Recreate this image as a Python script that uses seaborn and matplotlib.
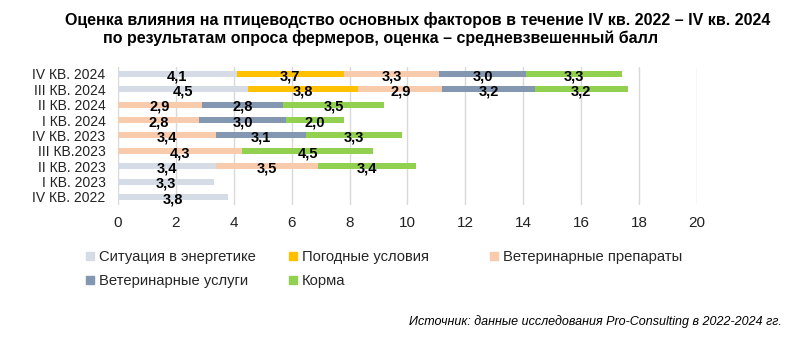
import matplotlib
matplotlib.use("Agg")
import matplotlib.pyplot as plt
from matplotlib.lines import Line2D
import seaborn as sns
import pandas as pd
import numpy as np

categories = ["IV КВ. 2024", "III КВ. 2024", "II КВ. 2024", "I КВ. 2024", "IV КВ. 2023",
              "III КВ.2023", "II КВ. 2023", "I КВ. 2023", "IV КВ. 2022"]
series_names = ["Ситуация в энергетике", "Погодные условия", "Ветеринарные препараты",
                "Ветеринарные услуги", "Корма"]
energy = [4.1, 4.5, 0, 0, 0, 0, 3.4, 3.3, 3.8]
weather = [3.7, 3.8, 0, 0, 0, 0, 0, 0, 0]
vet_drugs = [3.3, 2.9, 2.9, 2.8, 3.4, 4.3, 3.5, 0, 0]
vet_services = [3.0, 3.2, 2.8, 3.0, 3.1, 0, 0, 0, 0]
feed = [3.3, 3.2, 3.5, 2.0, 3.3, 4.5, 3.4, 0, 0]
colors = ["#D6DCE5", "#FFC000", "#F8CBAD", "#8497B0", "#92D050"]
x_ticks = [0, 2, 4, 6, 8, 10, 12, 14, 16, 18, 20]

title1 = "Оценка влияния на птицеводство основных факторов в течение IV кв. 2022 – IV кв. 2024"
title2 = "по результатам опроса фермеров, оценка – средневзвешенный балл"
source = "Источник: данные исследования Pro-Consulting в 2022-2024 гг."

sns.set_theme(style="white")
plt.rcParams["font.family"] = ["Liberation Sans", "DejaVu Sans"]

values = [energy, weather, vet_drugs, vet_services, feed]
df = pd.DataFrame({name: v for name, v in zip(series_names, values)}, index=categories)
cum = df.cumsum(axis=1)

W, H = 803, 347
fig = plt.figure(figsize=(W / 100, H / 100), dpi=100)
ax = fig.add_axes([118 / W, 1 - 205 / H, (697 - 118) / W, (205 - 67) / H])

for i in range(len(series_names) - 1, -1, -1):
    name = series_names[i]
    sns.barplot(x=cum[name].values, y=categories, orient="h", color=colors[i],
                saturation=1, width=0.39, linewidth=0, ax=ax, zorder=2)

# data labels
for i, name in enumerate(series_names):
    left = cum[name] - df[name]
    for j, cat in enumerate(categories):
        v = df[name].iloc[j]
        if v > 0:
            ax.text(left.iloc[j] + v / 2, j + 0.14, f"{v:.1f}".replace(".", ","),
                    ha="center", va="center", fontsize=10.5, fontweight="bold",
                    color="black", zorder=5)

ax.set_xlim(0, 20)
ax.set_ylim(8.52, -0.45)
ax.set_xticks(x_ticks)
ax.set_xticklabels([str(t) for t in x_ticks], fontsize=11, color="#222222")
ax.tick_params(axis="y", labelsize=10, length=0, pad=9, labelcolor="#222222")
ax.tick_params(axis="x", length=0, pad=8)
ax.set_xlabel("")
ax.set_ylabel("")
ax.grid(axis="x", color="#D9D9D9", linewidth=1, zorder=0)
ax.grid(axis="y", visible=False)
for s in ax.spines.values():
    s.set_visible(False)

# legend (three columns)
cols = [[0, 3], [1, 4], [2]]
xs = [86, 289, 490]
for col, xpx in zip(cols, xs):
    handles = [Line2D([], [], marker="s", linestyle="", color=colors[k], markersize=6)
               for k in col]
    labels = [series_names[k] for k in col]
    fig.legend(handles, labels, loc="upper left",
               bbox_to_anchor=(xpx / W, 1 - 250 / H), frameon=False,
               fontsize=10.6, handlelength=0.6, handletextpad=0.3,
               borderpad=0, borderaxespad=0, labelspacing=0.68)

fig.text(418 / W, 1 - 20 / H, title1, ha="center", va="center", fontsize=11.5,
         fontweight="bold", color="black")
fig.text(381 / W, 1 - 38.5 / H, title2, ha="center", va="center", fontsize=11.5,
         fontweight="bold", color="black")
fig.text(782 / W, 1 - 322 / H, source, ha="right", va="center", fontsize=9,
         style="italic", color="black")

fig.savefig("out.png", dpi=100)
